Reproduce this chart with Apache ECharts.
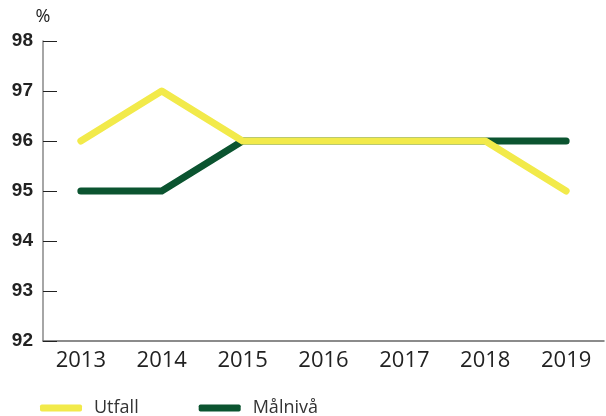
<!DOCTYPE html>
<html>
<head>
<meta charset="utf-8">
<script src="https://cdn.jsdelivr.net/npm/echarts@6/dist/echarts.min.js"></script>
<style>
  html, body { margin: 0; padding: 0; background: #ffffff; }
  #chart { width: 606px; height: 416px; }
</style>
</head>
<body>
<div id="chart"></div>
<script>
const years = [2013, 2014, 2015, 2016, 2017, 2018, 2019]
const utfall = [96, 97, 96, 96, 96, 96, 95]
const malniva = [95, 95, 96, 96, 96, 96, 96]
const yTicks = [92, 93, 94, 95, 96, 97, 98]

const pairs = (values) => years.map((year, i) => [year, values[i]])

const chart = echarts.init(document.getElementById('chart'))

chart.setOption({
  animation: false,
  textStyle: { fontFamily: 'Open Sans, sans-serif' },
  grid: {
    left: 43,
    right: 2,
    top: 41,
    bottom: 75
  },
  legend: {
    left: 40,
    top: 399,
    padding: 0,
    itemWidth: 42,
    itemHeight: 7,
    itemGap: 60,
    icon: 'roundRect',
    textStyle: { color: '#333333', fontSize: 18, padding: [0, 0, 0, 7] },
    data: ['Utfall', 'Målnivå']
  },
  xAxis: {
    type: 'value',
    min: 2012.532,
    max: 2019.468,
    splitLine: { show: false },
    axisLine: { lineStyle: { color: '#666666', width: 1.5 } },
    axisTick: { show: false },
    axisLabel: {
      customValues: years,
      color: '#222222',
      fontSize: 22,
      margin: 9,
      formatter: (v) => String(v)
    }
  },
  yAxis: {
    type: 'value',
    min: 92,
    max: 98,
    interval: 1,
    name: '%',
    nameLocation: 'end',
    nameGap: 15,
    nameTextStyle: { color: '#222222', fontSize: 18, align: 'center' },
    splitLine: { show: false },
    axisLine: { show: true, lineStyle: { color: '#888888', width: 1.5 } },
    axisTick: {
      show: true,
      inside: true,
      length: 14,
      customValues: yTicks,
      lineStyle: { color: '#222222', width: 1 }
    },
    axisLabel: {
      customValues: yTicks,
      color: '#222222',
      fontSize: 19,
      fontWeight: 'bold',
      fontFamily: 'Liberation Sans, Arial, sans-serif',
      margin: 10
    }
  },
  series: [
    {
      name: 'Målnivå',
      type: 'line',
      showSymbol: false,
      symbol: 'none',
      z: 2,
      itemStyle: { color: '#0b5430' },
      lineStyle: { color: '#0b5430', width: 7, cap: 'round', join: 'round' },
      data: pairs(malniva)
    },
    {
      name: 'Utfall',
      type: 'line',
      showSymbol: false,
      symbol: 'none',
      z: 3,
      itemStyle: { color: '#f2ea4a' },
      lineStyle: { color: '#f2ea4a', width: 7, cap: 'round', join: 'round' },
      data: pairs(utfall)
    }
  ]
})
</script>
</body>
</html>
